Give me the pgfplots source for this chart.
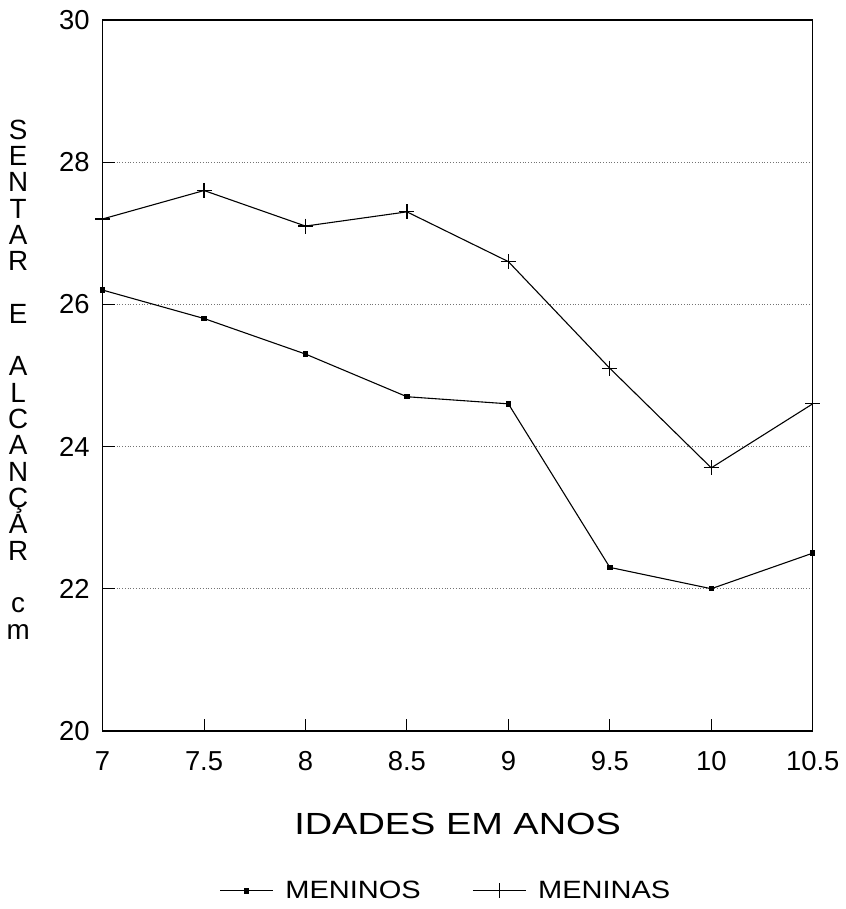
\documentclass[border=0pt]{standalone}
\usepackage{fontspec}
\setmainfont{Liberation Sans}
\newfontfamily\wideA{Liberation Sans}[FakeStretch=1.24]
\newfontfamily\wideB{Liberation Sans}[FakeStretch=1.16]
\usepackage{pgfplots}
\pgfplotsset{compat=1.18}

\begin{document}
\begin{tikzpicture}
\begin{axis}[
    scale only axis,
    width=357.5pt, height=358pt,
    xmin=7, xmax=10.5, ymin=20, ymax=30,
    xtick={7,7.5,...,10.5},
    ytick={20,22,...,30},
    xtick pos=bottom, ytick pos=left,
    tick align=inside,
    major tick length=6pt,
    tick style={black, line width=0.5pt},
    /pgf/number format/assume math mode=true,
    ticklabel style={font=\fontsize{13.8}{16}\selectfont},
    xticklabel style={yshift=-7pt},
    yticklabel style={xshift=-3pt},
    ymajorgrids=true,
    grid style={black!55, densely dotted, line width=0.4pt},
    axis line style={black, line width=0.7pt},
    xlabel={IDADES EM ANOS},
    xlabel style={at={(axis description cs:0.5,0)}, anchor=center, yshift=-47pt,
                  font=\wideA\fontsize{15.4}{18}\selectfont},
    legend style={at={(axis description cs:0.485,0)}, anchor=center, yshift=-80.5pt,
                  draw=none, fill=none, legend columns=2,
                  font=\wideB\fontsize{12.6}{15}\selectfont,
                  /tikz/every odd column/.append style={column sep=4pt},
                  /tikz/every even column/.append style={column sep=24pt}},
    legend image code/.code={%
      \draw[mark repeat=2, mark phase=2, #1]
        plot coordinates {(0pt,0pt) (13.25pt,0pt) (26.5pt,0pt)};},
    clip=false,
]
\addplot[black, line width=0.55pt, mark=square*, mark size=1.1pt]
  coordinates {(7,26.2) (7.5,25.8) (8,25.3) (8.5,24.7) (9,24.6) (9.5,22.3) (10,22.0) (10.5,22.5)};
\addlegendentry{MENINOS}
\addplot[black, line width=0.55pt, mark=+, mark size=3.8pt, mark options={line width=0.6pt}]
  coordinates {(7,27.2) (7.5,27.6) (8,27.1) (8.5,27.3) (9,26.6) (9.5,25.1) (10,23.7) (10.5,24.6)};
\addlegendentry{MENINAS}
\node[anchor=center, font=\fontsize{14}{13.25}\selectfont, align=center]
  at (rel axis cs:0,0.5) [xshift=-42.5pt, yshift=-2pt]
  {S\\E\\N\\T\\A\\R\\[13.25pt]E\\[13.25pt]A\\L\\C\\A\\N\\Ç\\A\\R\\[13.25pt]c\\m};
\end{axis}
\path (current axis.south west) ++(-51.5pt,-86.5pt) coordinate (bl);
\path (current axis.north east) ++(14.5pt,10pt) coordinate (tr);
\path (bl) rectangle (tr);
\end{tikzpicture}
\end{document}
